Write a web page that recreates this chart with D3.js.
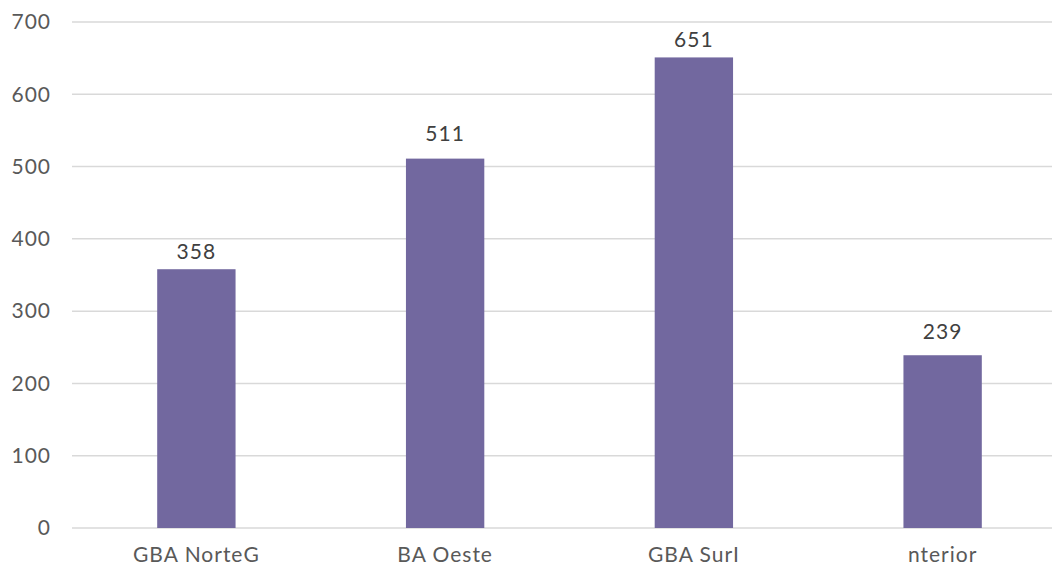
<!DOCTYPE html>
<html>
<head>
<meta charset="utf-8">
<script src="https://d3js.org/d3.v7.min.js"></script>
<style>
  body { margin: 0; background: #fff; }
  svg text { font-family: "Lato", "Noto Sans", sans-serif; letter-spacing: 1px; }
</style>
</head>
<body>
<div id="chart"></div>
<script>
// values
const categories = ["GBA NorteG", "BA Oeste", "GBA SurI", "nterior"];
const values = [358, 511, 651, 239];
const yTicks = [0, 100, 200, 300, 400, 500, 600, 700];

// label gap above each bar (the labels were not all placed the same)
const labelGap = [10, 18, 10, 16];

const width = 1052, height = 567;
const margin = { top: 22, right: -15, bottom: 39, left: 72 };

const svg = d3.select("#chart")
    .append("svg")
    .attr("width", width)
    .attr("height", height);

const x = d3.scaleBand()
    .domain(categories)
    .range([margin.left, width - margin.right])
    .paddingInner(0.685)
    .paddingOuter(0.3425);

const y = d3.scaleLinear()
    .domain([0, 700])
    .range([height - margin.bottom, margin.top]);

// gridlines
svg.append("g")
    .selectAll("line")
    .data(yTicks)
    .join("line")
    .attr("x1", margin.left)
    .attr("x2", width - margin.right)
    .attr("y1", d => y(d))
    .attr("y2", d => y(d))
    .attr("stroke", "#d9d9d9")
    .attr("stroke-width", 1.5);

// y tick labels
svg.append("g")
    .selectAll("text")
    .data(yTicks)
    .join("text")
    .attr("x", 51)
    .attr("y", d => y(d))
    .attr("dy", "0.35em")
    .attr("text-anchor", "end")
    .attr("fill", "#595959")
    .style("font-size", "21px")
    .text(d => d);

// bars
svg.append("g")
    .selectAll("rect")
    .data(values)
    .join("rect")
    .attr("x", (d, i) => x(categories[i]))
    .attr("width", x.bandwidth())
    .attr("y", d => y(d))
    .attr("height", d => y(0) - y(d))
    .attr("fill", "#72689f");

// value labels
svg.append("g")
    .selectAll("text")
    .data(values)
    .join("text")
    .attr("x", (d, i) => x(categories[i]) + x.bandwidth() / 2)
    .attr("y", (d, i) => y(d) - labelGap[i])
    .attr("text-anchor", "middle")
    .attr("fill", "#404040")
    .style("font-size", "21px")
    .text(d => d);

// category labels
svg.append("g")
    .selectAll("text")
    .data(categories)
    .join("text")
    .attr("x", d => x(d) + x.bandwidth() / 2)
    .attr("y", 562)
    .attr("text-anchor", "middle")
    .attr("fill", "#595959")
    .style("font-size", "21px")
    .text(d => d);
</script>
</body>
</html>
